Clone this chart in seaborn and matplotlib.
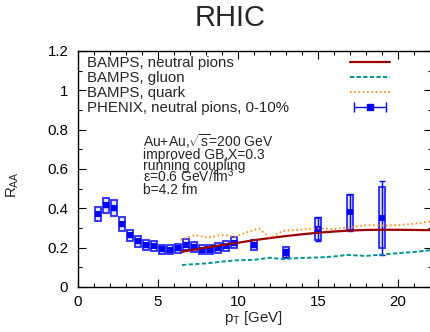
import numpy as np
import seaborn as sns
import matplotlib.pyplot as plt
from matplotlib.lines import Line2D
from matplotlib.legend_handler import HandlerTuple, HandlerLine2D

# PHENIX neutral pions, 0-10%
pt = [1.25, 1.75, 2.25, 2.75, 3.25, 3.75, 4.25, 4.75, 5.25, 5.75, 6.25, 6.75,
      7.25, 7.75, 8.25, 8.75, 9.25, 9.75, 11, 13, 15, 17, 19]
raa = [0.373, 0.415, 0.40, 0.32, 0.262, 0.232, 0.213, 0.21, 0.192, 0.19, 0.197, 0.216,
       0.203, 0.19, 0.19, 0.197, 0.21, 0.226, 0.214, 0.174, 0.295, 0.38, 0.351]
sys_err = [0.035, 0.04, 0.04, 0.036, 0.03, 0.028, 0.026, 0.025, 0.024, 0.023, 0.024, 0.026,
           0.025, 0.024, 0.024, 0.025, 0.026, 0.028, 0.025, 0.027, 0.055, 0.09, 0.155]
stat_err = [0.008, 0.008, 0.008, 0.008, 0.008, 0.008, 0.008, 0.008, 0.008, 0.008, 0.008, 0.008,
            0.008, 0.008, 0.008, 0.008, 0.008, 0.01, 0.012, 0.02, 0.06, 0.095, 0.187]

# BAMPS curves
pion_x = [6.5, 7, 8, 9, 10, 11, 12, 13, 14, 15, 16, 17, 18, 19, 20, 21, 22]
pion_y = [0.179, 0.187, 0.2, 0.213, 0.225, 0.238, 0.249, 0.259, 0.268, 0.276, 0.282,
          0.287, 0.29, 0.291, 0.291, 0.29, 0.289]
gluon_x = [6.5, 7, 8, 9, 10, 11, 12, 12.8, 14, 15, 16, 16.8, 18, 19, 20, 21, 22]
gluon_y = [0.112, 0.115, 0.12, 0.129, 0.136, 0.138, 0.149, 0.142, 0.148, 0.15, 0.155,
           0.163, 0.158, 0.165, 0.172, 0.178, 0.187]
quark_x = [6.4, 7.3, 8.05, 9.1, 9.8, 10.5, 11.3, 12, 12.8, 14, 14.9, 16, 17, 18, 19, 20, 21, 22]
quark_y = [0.24, 0.265, 0.252, 0.265, 0.255, 0.277, 0.298, 0.25, 0.285, 0.292, 0.299,
           0.294, 0.305, 0.314, 0.313, 0.314, 0.322, 0.333]

labels = ['BAMPS, neutral pions', 'BAMPS, gluon', 'BAMPS, quark', 'PHENIX, neutral pions, 0-10%']
notes = [r'Au+Au,$\sqrt{\mathrm{s}}$=200 GeV', 'improved GB,X=0.3', 'running coupling',
         'ε=0.6 GeV/fm$^3$', 'b=4.2 fm']

sns.set_style('ticks')
plt.rcParams['font.family'] = ['Liberation Sans', 'DejaVu Sans']
plt.rcParams['mathtext.fontset'] = 'custom'
plt.rcParams['mathtext.rm'] = 'Liberation Sans'
plt.rcParams['mathtext.it'] = 'Liberation Sans:italic'
plt.rcParams['axes.edgecolor'] = 'black'

fs = 10.8
fig = plt.figure(figsize=(4.3, 3.32), dpi=100)
ax = fig.add_axes([78/430, 1-287/332, 353.6/430, 236/332])

c_pion, c_gluon, c_quark, c_phenix = '#990000', '#009494', '#ff8c1a', '#0000ff'
ls_gluon = (0, (2.2, 1.2))
ls_quark = (0, (0.8, 1.4))

sns.lineplot(x=pion_x, y=pion_y, ax=ax, color=c_pion, lw=1.6, sort=False, zorder=6)
sns.lineplot(x=gluon_x, y=gluon_y, ax=ax, color=c_gluon, lw=1.4, sort=False,
             linestyle=ls_gluon, zorder=6)
sns.lineplot(x=quark_x, y=quark_y, ax=ax, color=c_quark, lw=1.4, sort=False,
             linestyle=ls_quark, zorder=6)

# systematic boxes
ax.bar(pt, [2*s for s in sys_err], bottom=[r - s for r, s in zip(raa, sys_err)], width=0.42,
       color='#e2e2e2', edgecolor='#2a2aff', linewidth=1.3, zorder=3)
ax.errorbar(pt, raa, yerr=stat_err, fmt='none', ecolor=c_phenix, elinewidth=1,
            capsize=2.5, capthick=1, zorder=4)
sns.scatterplot(x=pt, y=raa, ax=ax, marker='s', s=14, color=c_phenix, linewidth=0, zorder=5)

ax.set_xlim(0, 22.1)
ax.set_ylim(0, 1.2)
ax.set_xticks([0, 5, 10, 15, 20])
ax.set_xticks(np.arange(0, 23, 1), minor=True)
ax.set_yticks([0, 0.2, 0.4, 0.6, 0.8, 1.0, 1.2])
ax.set_yticklabels(['0', '0.2', '0.4', '0.6', '0.8', '1', '1.2'])
ax.set_yticks(np.arange(0, 1.21, 0.1), minor=True)
ax.tick_params(which='both', direction='in', top=True, right=True, width=0.8,
               labelsize=fs, colors='black')
ax.tick_params(which='major', length=6)
ax.tick_params(which='minor', length=3)
ax.tick_params(axis='y', pad=7)
ax.tick_params(axis='x', pad=6)
for sp in ax.spines.values():
    sp.set_linewidth(1.0)
    sp.set_visible(True)

# legend: texts on the left, line samples in a column on the right
leg_kw = dict(loc='upper left', frameon=False, labelspacing=0.07, borderaxespad=0,
              borderpad=0, fontsize=fs)
blank = [Line2D([], [], linestyle='none') for _ in labels]
leg_text = ax.legend(handles=blank, labels=labels, bbox_to_anchor=(0.0255, 0.979),
                     handlelength=0, handletextpad=0, **leg_kw)
ax.add_artist(leg_text)

h_pion = Line2D([], [], color=c_pion, lw=1.6)
h_gluon = Line2D([], [], color=c_gluon, lw=1.4, linestyle=ls_gluon)
h_quark = Line2D([], [], color=c_quark, lw=1.4, linestyle=ls_quark)
h_bar = Line2D([], [], color=c_phenix, lw=1, marker='|', markersize=7)
h_sq = Line2D([], [], color=c_phenix, marker='s', markersize=4, linestyle='none')
ax.legend(handles=[h_pion, h_gluon, h_quark, (h_bar, h_sq)], labels=[' '] * 4,
          bbox_to_anchor=((350 - 78) / 353.6, 0.979), handlelength=2.67, handletextpad=0,
          handler_map={tuple: HandlerTuple(ndivide=1, pad=0),
                       h_bar: HandlerLine2D(numpoints=2),
                       h_sq: HandlerLine2D(numpoints=1)}, **leg_kw)

note_y = [0.593, 0.543, 0.494, 0.445, 0.394]
for txt, yy in zip(notes, note_y):
    ax.text(0.183, yy, txt, transform=ax.transAxes, ha='left', va='baseline', fontsize=10)

fig.text(230/430, 1-18/332, 'RHIC', ha='center', va='center', fontsize=21)
fig.text(13/430, 1-185/332, r'R$_{\mathrm{AA}}$', ha='center', va='center', rotation=90, fontsize=fs)
fig.text(253/430, 1-318/332, r'p$_{\mathrm{T}}$ [GeV]', ha='center', va='center', fontsize=fs)

fig.savefig('out.png', dpi=100)
